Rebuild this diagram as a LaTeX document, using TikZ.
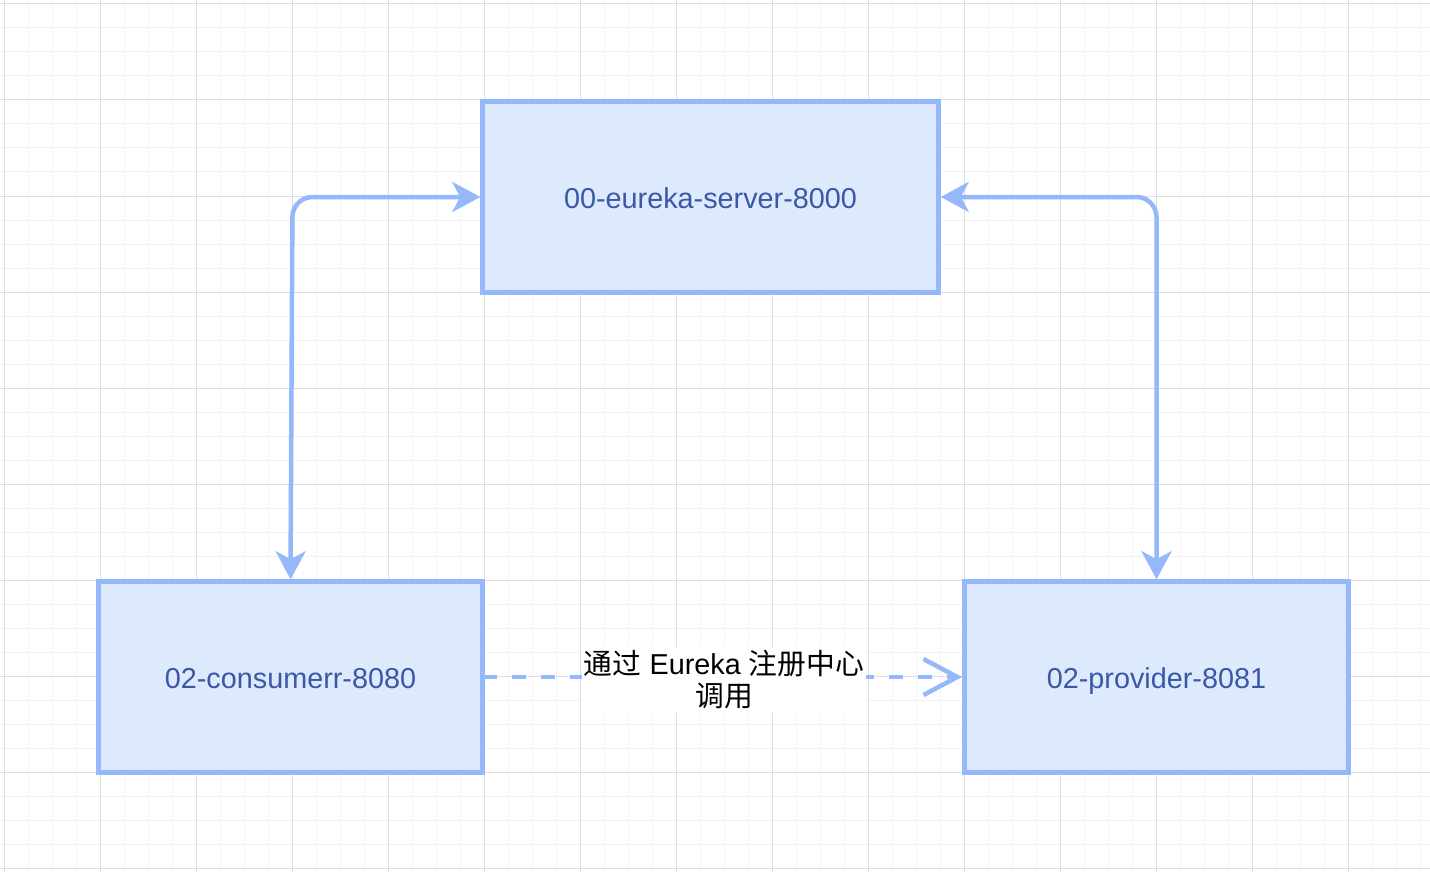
\documentclass[tikz,border=0pt]{standalone}
\usepackage{fontspec}
\setmainfont{Liberation Sans}
\newfontfamily\cjk{Noto Sans CJK SC}
\usetikzlibrary{arrows.meta}
\definecolor{gridmajor}{HTML}{DEDEDE}
\definecolor{gridminor}{HTML}{F3F3F3}
\definecolor{boxfill}{HTML}{DDE9FC}
\definecolor{boxline}{HTML}{94B8F9}
\definecolor{boxtext}{HTML}{3A58A6}
\begin{document}
\begin{tikzpicture}[x=1pt,y=-1pt,
  svc/.style={draw=boxline, fill=boxfill, line width=4.5pt, minimum height=191pt,
    inner sep=0pt, text=boxtext, font=\fontsize{28.8}{33}\selectfont,
    text height=26pt, text depth=3.4pt},
  conn/.style={draw=boxline, line width=4.5pt, rounded corners=20pt, line join=round},
  tipS/.tip={Stealth[length=28pt,width=30pt,inset=8pt]},
  lbl/.style={fill=white, inner xsep=2pt, inner ysep=4pt, align=center, text=black,
    font=\fontsize{28.8}{32}\selectfont}
]
\useasboundingbox (0,0) rectangle (1430,872);
\fill[white] (0,0) rectangle (1430,872);
% grid
\foreach \x in {4,28,...,1430} \draw[gridminor, line width=1pt] (\x,0) -- (\x,872);
\foreach \y in {4,28,...,872} \draw[gridminor, line width=1pt] (0,\y) -- (1430,\y);
\foreach \x in {4,100,...,1430} \draw[gridmajor, line width=1pt] (\x,0) -- (\x,872);
\foreach \y in {4,100,...,872} \draw[gridmajor, line width=1pt] (0,\y) -- (1430,\y);
% boxes
\node[svc, minimum width=456pt] (srv) at (710.5,197) {00-eureka-server-8000};
\node[svc, minimum width=384pt] (cons) at (290.5,677) {02-consumerr-8080};
\node[svc, minimum width=384pt] (prov) at (1156.5,677) {02-provider-8081};
% connectors
\coordinate (lc) at (292.5,197);
\coordinate (rc) at (1156.5,197);
\draw[conn, tipS-tipS] (cons.north) -- (lc) -- (srv.west);
\draw[conn, tipS-tipS] (srv.east) -- (rc) -- (prov.north);
\draw[draw=boxline, line width=4.5pt, dash pattern=on 14.5pt off 14.5pt, dash phase=2.25pt,
  -{Straight Barb[length=34pt,width=36pt]}] (cons.east) -- (prov.west);
\node[lbl] (label) at (724,680) {{\cjk 通过} Eureka {\cjk 注册中心}\\{\cjk 调用}};
\end{tikzpicture}
\end{document}
